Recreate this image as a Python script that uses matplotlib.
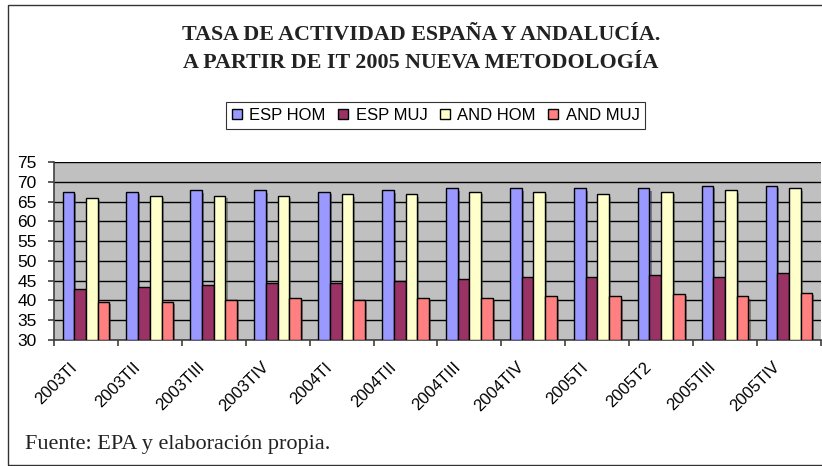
import matplotlib
matplotlib.use("Agg")
import matplotlib.pyplot as plt
import matplotlib.patheffects as pe
import matplotlib.transforms as mtransforms
import numpy as np
from matplotlib.patches import Rectangle

# values
quarters = ["2003TI", "2003TII", "2003TIII", "2003TIV", "2004TI", "2004TII",
            "2004TIII", "2004TIV", "2005TI", "2005T2", "2005TIII", "2005TIV"]
esp_hom = [67.4, 67.4, 67.8, 67.8, 67.4, 67.8, 68.3, 68.3, 68.3, 68.3, 68.9, 68.9]
esp_muj = [43.0, 43.5, 44.0, 44.5, 44.5, 45.0, 45.5, 46.0, 46.0, 46.5, 46.0, 47.0]
and_hom = [65.8, 66.3, 66.3, 66.3, 66.8, 66.8, 67.4, 67.4, 66.8, 67.4, 67.8, 68.3]
and_muj = [39.6, 39.6, 40.1, 40.6, 40.1, 40.6, 40.6, 41.0, 41.0, 41.6, 41.0, 42.0]
series_names = ["ESP HOM", "ESP MUJ", "AND HOM", "AND MUJ"]
series_colors = ["#9999FF", "#993366", "#FFFFCC", "#FF8080"]

series = [esp_hom, esp_muj, and_hom, and_muj]

fig = plt.figure(figsize=(8.22, 4.66), dpi=100)
ax = fig.add_axes([0.0657, 0.2704, 0.933, 0.382])

x = np.arange(len(quarters))
width = 0.183
floor = 30
for i, (vals, name, col) in enumerate(zip(series, series_names, series_colors)):
    offs = (i - 1.5) * width
    ax.bar(x + offs, np.array(vals) - floor, width, bottom=floor, color=col,
           edgecolor="black", linewidth=1.0, label=name, zorder=3,
           path_effects=[pe.SimplePatchShadow(offset=(1.5, -1.5), alpha=0.5),
                         pe.Normal()])

ax.set_facecolor("#C0C0C0")
ax.set_xlim(-0.5, len(quarters) - 0.5)
ax.set_ylim(30, 75)
ax.set_yticks(range(30, 80, 5))
ax.yaxis.grid(True, color="black", linewidth=1.0, zorder=1)
ax.set_axisbelow(True)
for s in ["top", "right"]:
    ax.spines[s].set_visible(False)
ax.spines["left"].set_color("#404040")
ax.spines["bottom"].set_color("#404040")
ax.spines["left"].set_linewidth(1.2)
ax.spines["bottom"].set_linewidth(1.2)

# tick marks between categories, labels at centres
ax.set_xticks(np.arange(-0.5, len(quarters), 1.0))
ax.set_xticklabels([])
ax.set_xticks(x, minor=True)
ax.set_xticklabels(quarters, minor=True, rotation=45, ha="right",
                   rotation_mode="anchor", fontsize=12, family="Liberation Sans")
ax.tick_params(axis="x", which="major", length=4, color="#404040", width=1.2)
ax.tick_params(axis="x", which="minor", length=0, pad=14)
shift = mtransforms.ScaledTranslation(-17 / 100, 0, fig.dpi_scale_trans)
for lab in ax.get_xticklabels(minor=True):
    lab.set_transform(lab.get_transform() + shift)
ax.tick_params(axis="y", length=4, color="#404040", width=1.2, labelsize=12.5, pad=8.5)
for lab in ax.get_yticklabels():
    lab.set_family("Liberation Sans")

fig.text(0.512, 0.925, "TASA DE ACTIVIDAD ESPAÑA Y ANDALUCÍA.", ha="center", va="center",
         fontsize=15.8, fontweight="bold", family="Liberation Serif", color="#222222")
fig.text(0.512, 0.864, "A PARTIR DE IT 2005 NUEVA METODOLOGÍA", ha="center", va="center",
         fontsize=15.8, fontweight="bold", family="Liberation Serif", color="#222222")

leg = fig.legend(loc="center", bbox_to_anchor=(0.530, 0.752), ncol=4, frameon=True,
                 fancybox=False, edgecolor="black", handlelength=0.6, handleheight=0.6,
                 handletextpad=0.45, columnspacing=0.75, borderpad=0.35,
                 prop={"family": "Liberation Sans", "size": 12})
leg.get_frame().set_linewidth(0.8)
for h in leg.legend_handles:
    h.set_path_effects([])

fig.text(0.031, 0.047, "Fuente: EPA y elaboración propia.", ha="left", va="center",
         fontsize=16, family="Liberation Serif", color="#222222")

# outer chart frame (cut at right like the reference)
fig.patches.append(Rectangle((0.0095, 0.002), 1.2, 0.987, transform=fig.transFigure,
                             fill=False, edgecolor="#333333", linewidth=1.0))

fig.savefig("out.png", dpi=100)
